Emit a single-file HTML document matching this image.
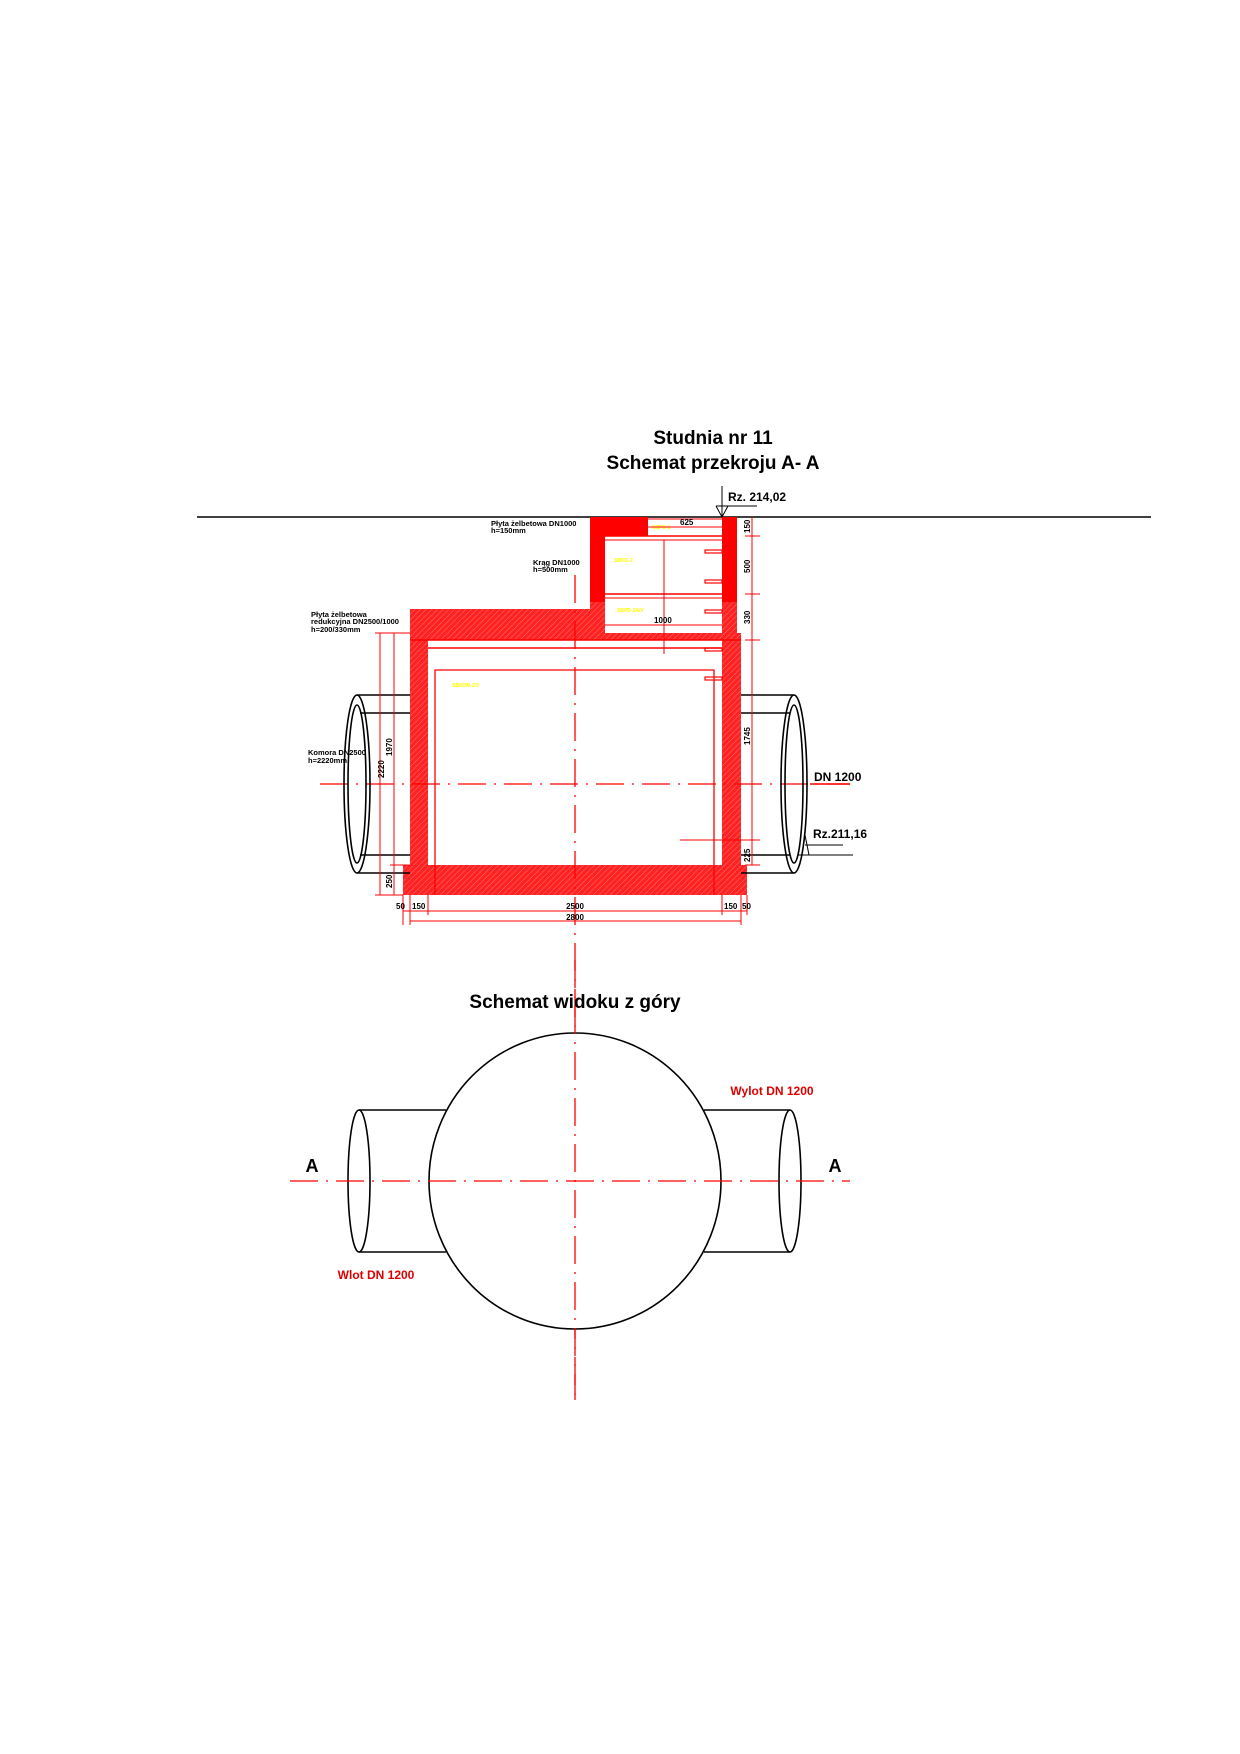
<!DOCTYPE html>
<html><head><meta charset="utf-8"><style>html,body{margin:0;padding:0;background:#fff}svg{display:block}</style></head>
<body>
<svg width="1240" height="1754" viewBox="0 0 1240 1754" xmlns="http://www.w3.org/2000/svg" font-family="Liberation Sans, sans-serif">
<defs>
<pattern id="h" width="4" height="4" patternUnits="userSpaceOnUse" patternTransform="rotate(45)">
<rect width="4" height="4" fill="#f22"/><line x1="0" y1="0" x2="0" y2="4" stroke="#fff" stroke-width="0.6" opacity="0.6"/>
</pattern>
</defs>
<text x="713" y="444" font-size="19" font-weight="bold" text-anchor="middle">Studnia nr 11</text>
<text x="713" y="469" font-size="19" font-weight="bold" text-anchor="middle">Schemat przekroju A- A</text>
<line x1="197" y1="517" x2="1151" y2="517" stroke="#000" stroke-width="1.6"/>
<line x1="722" y1="486" x2="722" y2="517" stroke="#000"/>
<line x1="716" y1="506" x2="757" y2="506" stroke="#000"/>
<path d="M716 506 L722 517 L728 506" fill="none" stroke="#000"/>
<text x="728" y="501" font-size="12" font-weight="bold">Rz. 214,02</text>

<rect x="590" y="517" width="58" height="19" fill="#f00"/>
<rect x="590" y="517" width="15" height="85" fill="#f00"/>
<rect x="722" y="517" width="15" height="85" fill="#f00"/>
<line x1="648" y1="519" x2="722" y2="519" stroke="#f00"/>
<line x1="605" y1="536" x2="722" y2="536" stroke="#f00" stroke-width="1.5"/>
<line x1="605" y1="540" x2="722" y2="540" stroke="#f00"/>
<line x1="605" y1="594" x2="722" y2="594" stroke="#f00" stroke-width="1.5"/>
<line x1="605" y1="598" x2="722" y2="598" stroke="#f00"/>
<path d="M410 609 H590 V602 H605 V633 H722 V602 H737 V640 H410 Z" fill="url(#h)"/>
<rect x="410" y="633" width="18" height="232" fill="url(#h)"/>
<rect x="722" y="633" width="19" height="232" fill="url(#h)"/>
<rect x="403" y="865" width="344" height="30" fill="url(#h)"/>
<line x1="410" y1="640" x2="741" y2="640" stroke="#f00" stroke-width="1.5"/>
<line x1="428" y1="648" x2="722" y2="648" stroke="#f00" stroke-width="1.5"/>
<path d="M435 895 V670 H714 V895" fill="none" stroke="#f00" stroke-width="1.3"/>
<g fill="none" stroke="#f00" stroke-width="1.2">
<rect x="705" y="550" width="17" height="3"/><rect x="705" y="580" width="17" height="3"/>
<rect x="705" y="610" width="17" height="3"/><rect x="705" y="648" width="17" height="3"/>
<rect x="705" y="677" width="17" height="3"/>
</g>
<line x1="664" y1="540" x2="664" y2="654" stroke="#f00"/>
<text x="652" y="529" font-size="5" fill="#ff0" font-weight="bold">SBPD-1</text>
<text x="614" y="562" font-size="5" fill="#ff0" font-weight="bold">SBKD-2</text>
<text x="617" y="612" font-size="5" fill="#ff0" font-weight="bold">SBPD-3A/V</text>
<text x="452" y="687" font-size="5" fill="#ff0" font-weight="bold">SBKDM-2/V</text>

<line x1="575" y1="575" x2="575" y2="1400" stroke="#f00" stroke-width="1.3" stroke-dasharray="28 8 2 8"/>
<line x1="320" y1="784" x2="850" y2="784" stroke="#f00" stroke-width="1.3" stroke-dasharray="28 8 2 8"/>

<g fill="none" stroke="#000" stroke-width="1.6">
<ellipse cx="357" cy="784" rx="13" ry="89"/><ellipse cx="357" cy="784" rx="9" ry="79"/>
<line x1="357" y1="695" x2="410" y2="695"/><line x1="360" y1="713" x2="410" y2="713"/>
<line x1="360" y1="855" x2="410" y2="855"/><line x1="357" y1="873" x2="410" y2="873"/>
<ellipse cx="794" cy="784" rx="13" ry="89"/><ellipse cx="794" cy="784" rx="9" ry="79"/>
<line x1="741" y1="695" x2="794" y2="695"/><line x1="741" y1="713" x2="790" y2="713"/>
<line x1="741" y1="855" x2="790" y2="855"/><line x1="741" y1="873" x2="794" y2="873"/>
</g>
<text x="814" y="781" font-size="12" font-weight="bold">DN 1200</text>
<line x1="810" y1="784" x2="850" y2="784" stroke="#f00" stroke-width="1.5"/>
<text x="813" y="838" font-size="12" font-weight="bold">Rz.211,16</text>
<line x1="805" y1="845" x2="843" y2="845" stroke="#000"/>
<line x1="798" y1="855" x2="853" y2="855" stroke="#000"/>
<line x1="805" y1="835" x2="809" y2="855" stroke="#000"/>

<g stroke="#f00" stroke-width="1">
<line x1="752" y1="517" x2="752" y2="865"/>
<line x1="745" y1="536" x2="760" y2="536"/><line x1="745" y1="594" x2="760" y2="594"/>
<line x1="745" y1="640" x2="760" y2="640"/><line x1="680" y1="840" x2="760" y2="840"/>
<line x1="745" y1="865" x2="760" y2="865"/>
<line x1="380" y1="633" x2="380" y2="895"/><line x1="394" y1="633" x2="394" y2="895"/>
<line x1="375" y1="633" x2="410" y2="633"/><line x1="390" y1="865" x2="410" y2="865"/>
<line x1="375" y1="895" x2="403" y2="895"/>
<line x1="403" y1="911" x2="747" y2="911"/><line x1="410" y1="921" x2="741" y2="921"/>
<line x1="403" y1="895" x2="403" y2="925"/><line x1="410" y1="895" x2="410" y2="925"/>
<line x1="428" y1="895" x2="428" y2="915"/><line x1="722" y1="895" x2="722" y2="915"/>
<line x1="741" y1="895" x2="741" y2="925"/><line x1="747" y1="895" x2="747" y2="915"/>
<line x1="648" y1="527" x2="722" y2="527"/><line x1="605" y1="625" x2="722" y2="625"/>
</g>
<g font-size="8" font-weight="bold">
<text x="680" y="525">625</text><text x="654" y="623">1000</text>
<text x="575" y="909" text-anchor="middle">2500</text><text x="575" y="920" text-anchor="middle">2800</text>
<text x="396" y="909">50</text><text x="412" y="909">150</text>
<text x="724" y="909">150</text><text x="742" y="909">50</text>
<text transform="translate(750,533) rotate(-90)">150</text>
<text transform="translate(750,573) rotate(-90)">500</text>
<text transform="translate(750,624) rotate(-90)">330</text>
<text transform="translate(750,745) rotate(-90)">1745</text>
<text transform="translate(750,862) rotate(-90)">225</text>
<text transform="translate(384,778) rotate(-90)">2220</text>
<text transform="translate(392,756) rotate(-90)">1970</text>
<text transform="translate(392,888) rotate(-90)">250</text>
</g>
<g font-size="7.5" font-weight="bold">
<text x="491" y="526">Płyta żelbetowa DN1000</text><text x="491" y="533">h=150mm</text>
<text x="533" y="565">Krąg DN1000</text><text x="533" y="572">h=500mm</text>
<text x="311" y="617">Płyta żelbetowa</text><text x="311" y="624">redukcyjna DN2500/1000</text><text x="311" y="632">h=200/330mm</text>
<text x="308" y="755">Komora DN2500</text><text x="308" y="763">h=2220mm</text>
</g>

<text x="575" y="1008" font-size="19" font-weight="bold" text-anchor="middle">Schemat widoku z góry</text>
<g fill="none" stroke="#000" stroke-width="1.6">
<line x1="359" y1="1110" x2="446" y2="1110"/><line x1="359" y1="1252" x2="446" y2="1252"/>
<line x1="704" y1="1110" x2="790" y2="1110"/><line x1="704" y1="1252" x2="790" y2="1252"/>
<ellipse cx="359" cy="1181" rx="11" ry="71"/><ellipse cx="790" cy="1181" rx="11" ry="71"/>
<ellipse cx="575" cy="1181" rx="146" ry="148" fill="#fff"/>
</g>
<line x1="575" y1="960" x2="575" y2="1400" stroke="#f00" stroke-width="1.3" stroke-dasharray="28 8 2 8"/>
<line x1="290" y1="1181" x2="850" y2="1181" stroke="#f00" stroke-width="1.3" stroke-dasharray="28 8 2 8"/>
<text x="312" y="1172" font-size="18" font-weight="bold" text-anchor="middle">A</text>
<text x="835" y="1172" font-size="18" font-weight="bold" text-anchor="middle">A</text>
<text x="772" y="1095" font-size="12" font-weight="bold" fill="#d00" text-anchor="middle">Wylot DN 1200</text>
<text x="376" y="1279" font-size="12" font-weight="bold" fill="#d00" text-anchor="middle">Wlot DN 1200</text>
</svg>
</body></html>
